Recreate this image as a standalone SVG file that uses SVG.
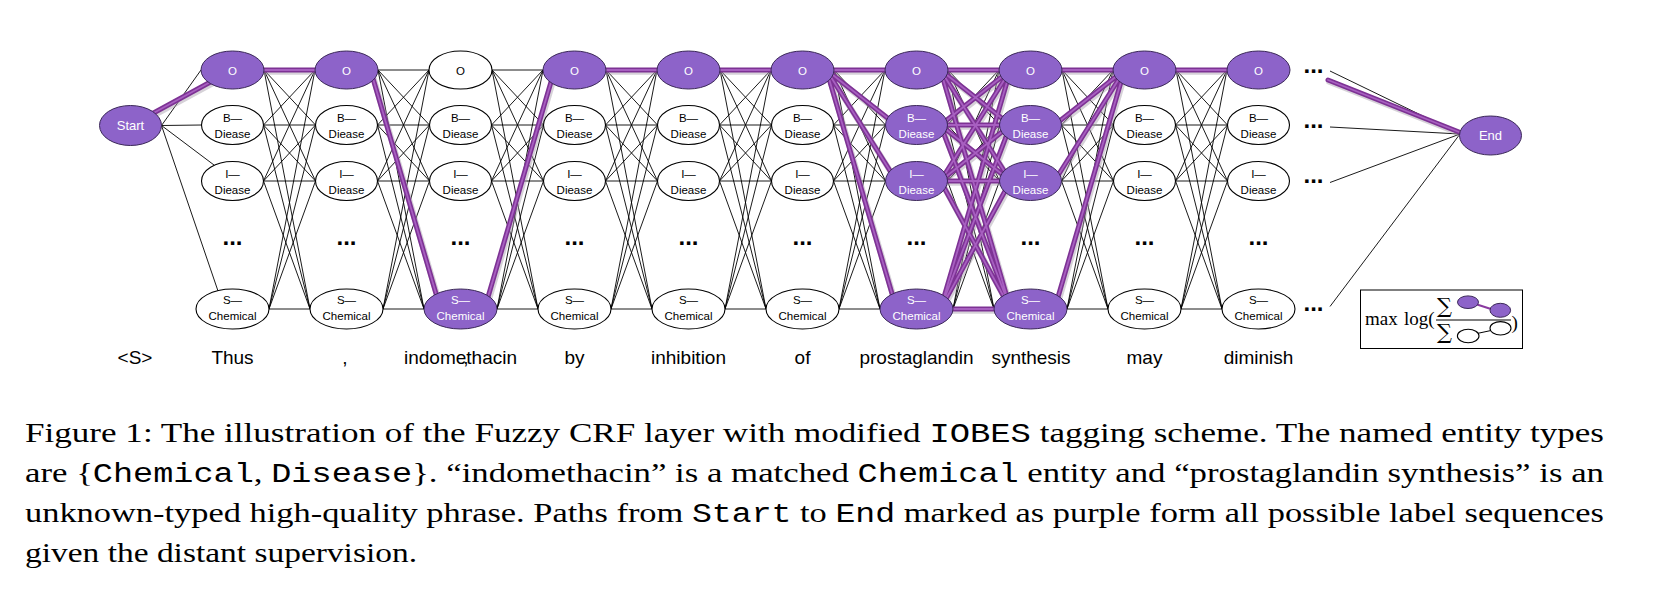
<svg xmlns="http://www.w3.org/2000/svg" xmlns:xlink="http://www.w3.org/1999/xlink" width="1658" height="616" viewBox="0 0 1658 616">
<style>
.e{fill:none;stroke:#000;stroke-width:0.9}
.n{fill:#fff;stroke:#000;stroke-width:1.1}
.pn{fill:#8d63c9;stroke:#3b2858;stroke-width:1}
.t{font-family:"Liberation Sans",Arial,sans-serif;font-size:11.5px;text-anchor:middle;fill:#000}
.tw{fill:#fff}
.st{font-family:"Liberation Sans",Arial,sans-serif;font-size:13px;text-anchor:middle;fill:#fff}
.w{font-family:"Liberation Sans",Arial,sans-serif;font-size:19px;text-anchor:middle;fill:#000}
.d{font-family:"Liberation Sans",Arial,sans-serif;font-size:24px;font-weight:bold;text-anchor:middle;fill:#000}
.cap{font-family:"Liberation Serif","Times New Roman",serif;font-size:28px;fill:#000}
.mono{font-family:"Liberation Mono","Courier New",monospace;font-size:27px}
.psh{fill:none;stroke:#a59ca8;stroke-width:6;stroke-opacity:0.45;stroke-linecap:round}
.po{fill:none;stroke:#7d3294;stroke-width:5;stroke-linecap:round}
.pi{fill:none;stroke:#a75fc0;stroke-width:1.8;stroke-linecap:round}
.mx{font-family:"Liberation Serif","Times New Roman",serif;font-size:19px;fill:#000}
.sg{font-family:"DejaVu Serif","Liberation Serif",serif;font-size:21px;fill:#000}
</style>
<defs>
<path id="mesh" d="M31.5 70L82.5 70M31.5 70L83 125M31.5 70L83 181M31.5 70L77.5 309M31 125L82.5 70M31 125L83 125M31 125L83 181M31 125L77.5 309M31 181L82.5 70M31 181L83 125M31 181L83 181M31 181L77.5 309M36.5 309L82.5 70M36.5 309L83 125M36.5 309L83 181M36.5 309L77.5 309"/>
<path id="pp" d="M130.5 125.5L232.5 70M256.5 70L326.5 70M370.5 70L440.5 309M484.5 309L554.5 70M598.5 70L668.5 70M712.5 70L782.5 70M826.5 70L896.5 70M826.5 70L896.5 125M826.5 70L896.5 181M826.5 70L896.5 309M940.5 70L1010.5 70M940.5 70L1010.5 125M940.5 70L1010.5 181M940.5 70L1010.5 309M940.5 125L1010.5 70M940.5 125L1010.5 125M940.5 125L1010.5 181M940.5 125L1010.5 309M940.5 181L1010.5 70M940.5 181L1010.5 125M940.5 181L1010.5 181M940.5 181L1010.5 309M940.5 309L1010.5 70M940.5 309L1010.5 125M940.5 309L1010.5 181M940.5 309L1010.5 309M1054.5 70L1124.5 70M1054.5 125L1124.5 70M1054.5 181L1124.5 70M1054.5 309L1124.5 70M1168.5 70L1238.5 70M1328 80L1459 132"/>
</defs>
<rect width="1658" height="616" fill="#fff"/>
<g id="connectors">
<g class="e">
<path d="M161.5 125.5L201 70M161.5 125.5L201.5 125M161.5 125.5L214 165M161.5 125.5L218 291"/>
<use xlink:href="#mesh" x="232.5"/>
<use xlink:href="#mesh" x="346.5"/>
<use xlink:href="#mesh" x="460.5"/>
<use xlink:href="#mesh" x="574.5"/>
<use xlink:href="#mesh" x="688.5"/>
<use xlink:href="#mesh" x="802.5"/>
<use xlink:href="#mesh" x="916.5"/>
<use xlink:href="#mesh" x="1030.5"/>
<use xlink:href="#mesh" x="1144.5"/>
<path d="M1330 71L1460 134M1330 127L1460 134M1330 182.5L1460 134M1330 306.5L1460 134"/>
</g>
<use xlink:href="#pp" class="psh" transform="translate(1.2 1.8)"/>
<use xlink:href="#pp" class="po"/>
<use xlink:href="#pp" class="pi"/>
</g>
<g id="start"><ellipse class="pn" cx="130.5" cy="125.5" rx="31" ry="20"/><text class="st" x="130.5" y="130">Start</text></g>
<g id="end"><ellipse class="pn" cx="1490.5" cy="135.5" rx="31" ry="19.5"/><text class="st" x="1490.5" y="140">End</text></g>

<g id="c1-O"><ellipse class="pn" cx="232.5" cy="70" rx="31.5" ry="19"/><text class="t tw" x="232.5" y="74.5">O</text></g>
<g id="c1-B"><ellipse class="n" cx="232.5" cy="125" rx="31" ry="19.5"/><text class="t" x="232.5" y="121.5">B—</text><text class="t" x="232.5" y="137.5">Diease</text></g>
<g id="c1-I"><ellipse class="n" cx="232.5" cy="181" rx="31" ry="19.5"/><text class="t" x="232.5" y="177.5">I—</text><text class="t" x="232.5" y="193.5">Diease</text></g>
<g id="c1-S"><ellipse class="n" cx="232.5" cy="309" rx="36.5" ry="20"/><text class="t" x="232.5" y="304">S—</text><text class="t" x="232.5" y="320">Chemical</text></g>

<g id="c2-O"><ellipse class="pn" cx="346.5" cy="70" rx="31.5" ry="19"/><text class="t tw" x="346.5" y="74.5">O</text></g>
<g id="c2-B"><ellipse class="n" cx="346.5" cy="125" rx="31" ry="19.5"/><text class="t" x="346.5" y="121.5">B—</text><text class="t" x="346.5" y="137.5">Diease</text></g>
<g id="c2-I"><ellipse class="n" cx="346.5" cy="181" rx="31" ry="19.5"/><text class="t" x="346.5" y="177.5">I—</text><text class="t" x="346.5" y="193.5">Diease</text></g>
<g id="c2-S"><ellipse class="n" cx="346.5" cy="309" rx="36.5" ry="20"/><text class="t" x="346.5" y="304">S—</text><text class="t" x="346.5" y="320">Chemical</text></g>

<g id="c3-O"><ellipse class="n" cx="460.5" cy="70" rx="31.5" ry="19"/><text class="t" x="460.5" y="74.5">O</text></g>
<g id="c3-B"><ellipse class="n" cx="460.5" cy="125" rx="31" ry="19.5"/><text class="t" x="460.5" y="121.5">B—</text><text class="t" x="460.5" y="137.5">Diease</text></g>
<g id="c3-I"><ellipse class="n" cx="460.5" cy="181" rx="31" ry="19.5"/><text class="t" x="460.5" y="177.5">I—</text><text class="t" x="460.5" y="193.5">Diease</text></g>
<g id="c3-S"><ellipse class="pn" cx="460.5" cy="309" rx="36.5" ry="20"/><text class="t tw" x="460.5" y="304">S—</text><text class="t tw" x="460.5" y="320">Chemical</text></g>

<g id="c4-O"><ellipse class="pn" cx="574.5" cy="70" rx="31.5" ry="19"/><text class="t tw" x="574.5" y="74.5">O</text></g>
<g id="c4-B"><ellipse class="n" cx="574.5" cy="125" rx="31" ry="19.5"/><text class="t" x="574.5" y="121.5">B—</text><text class="t" x="574.5" y="137.5">Diease</text></g>
<g id="c4-I"><ellipse class="n" cx="574.5" cy="181" rx="31" ry="19.5"/><text class="t" x="574.5" y="177.5">I—</text><text class="t" x="574.5" y="193.5">Diease</text></g>
<g id="c4-S"><ellipse class="n" cx="574.5" cy="309" rx="36.5" ry="20"/><text class="t" x="574.5" y="304">S—</text><text class="t" x="574.5" y="320">Chemical</text></g>

<g id="c5-O"><ellipse class="pn" cx="688.5" cy="70" rx="31.5" ry="19"/><text class="t tw" x="688.5" y="74.5">O</text></g>
<g id="c5-B"><ellipse class="n" cx="688.5" cy="125" rx="31" ry="19.5"/><text class="t" x="688.5" y="121.5">B—</text><text class="t" x="688.5" y="137.5">Diease</text></g>
<g id="c5-I"><ellipse class="n" cx="688.5" cy="181" rx="31" ry="19.5"/><text class="t" x="688.5" y="177.5">I—</text><text class="t" x="688.5" y="193.5">Diease</text></g>
<g id="c5-S"><ellipse class="n" cx="688.5" cy="309" rx="36.5" ry="20"/><text class="t" x="688.5" y="304">S—</text><text class="t" x="688.5" y="320">Chemical</text></g>

<g id="c6-O"><ellipse class="pn" cx="802.5" cy="70" rx="31.5" ry="19"/><text class="t tw" x="802.5" y="74.5">O</text></g>
<g id="c6-B"><ellipse class="n" cx="802.5" cy="125" rx="31" ry="19.5"/><text class="t" x="802.5" y="121.5">B—</text><text class="t" x="802.5" y="137.5">Diease</text></g>
<g id="c6-I"><ellipse class="n" cx="802.5" cy="181" rx="31" ry="19.5"/><text class="t" x="802.5" y="177.5">I—</text><text class="t" x="802.5" y="193.5">Diease</text></g>
<g id="c6-S"><ellipse class="n" cx="802.5" cy="309" rx="36.5" ry="20"/><text class="t" x="802.5" y="304">S—</text><text class="t" x="802.5" y="320">Chemical</text></g>

<g id="c7-O"><ellipse class="pn" cx="916.5" cy="70" rx="31.5" ry="19"/><text class="t tw" x="916.5" y="74.5">O</text></g>
<g id="c7-B"><ellipse class="pn" cx="916.5" cy="125" rx="31" ry="19.5"/><text class="t tw" x="916.5" y="121.5">B—</text><text class="t tw" x="916.5" y="137.5">Diease</text></g>
<g id="c7-I"><ellipse class="pn" cx="916.5" cy="181" rx="31" ry="19.5"/><text class="t tw" x="916.5" y="177.5">I—</text><text class="t tw" x="916.5" y="193.5">Diease</text></g>
<g id="c7-S"><ellipse class="pn" cx="916.5" cy="309" rx="36.5" ry="20"/><text class="t tw" x="916.5" y="304">S—</text><text class="t tw" x="916.5" y="320">Chemical</text></g>

<g id="c8-O"><ellipse class="pn" cx="1030.5" cy="70" rx="31.5" ry="19"/><text class="t tw" x="1030.5" y="74.5">O</text></g>
<g id="c8-B"><ellipse class="pn" cx="1030.5" cy="125" rx="31" ry="19.5"/><text class="t tw" x="1030.5" y="121.5">B—</text><text class="t tw" x="1030.5" y="137.5">Diease</text></g>
<g id="c8-I"><ellipse class="pn" cx="1030.5" cy="181" rx="31" ry="19.5"/><text class="t tw" x="1030.5" y="177.5">I—</text><text class="t tw" x="1030.5" y="193.5">Diease</text></g>
<g id="c8-S"><ellipse class="pn" cx="1030.5" cy="309" rx="36.5" ry="20"/><text class="t tw" x="1030.5" y="304">S—</text><text class="t tw" x="1030.5" y="320">Chemical</text></g>

<g id="c9-O"><ellipse class="pn" cx="1144.5" cy="70" rx="31.5" ry="19"/><text class="t tw" x="1144.5" y="74.5">O</text></g>
<g id="c9-B"><ellipse class="n" cx="1144.5" cy="125" rx="31" ry="19.5"/><text class="t" x="1144.5" y="121.5">B—</text><text class="t" x="1144.5" y="137.5">Diease</text></g>
<g id="c9-I"><ellipse class="n" cx="1144.5" cy="181" rx="31" ry="19.5"/><text class="t" x="1144.5" y="177.5">I—</text><text class="t" x="1144.5" y="193.5">Diease</text></g>
<g id="c9-S"><ellipse class="n" cx="1144.5" cy="309" rx="36.5" ry="20"/><text class="t" x="1144.5" y="304">S—</text><text class="t" x="1144.5" y="320">Chemical</text></g>

<g id="c10-O"><ellipse class="pn" cx="1258.5" cy="70" rx="31.5" ry="19"/><text class="t tw" x="1258.5" y="74.5">O</text></g>
<g id="c10-B"><ellipse class="n" cx="1258.5" cy="125" rx="31" ry="19.5"/><text class="t" x="1258.5" y="121.5">B—</text><text class="t" x="1258.5" y="137.5">Diease</text></g>
<g id="c10-I"><ellipse class="n" cx="1258.5" cy="181" rx="31" ry="19.5"/><text class="t" x="1258.5" y="177.5">I—</text><text class="t" x="1258.5" y="193.5">Diease</text></g>
<g id="c10-S"><ellipse class="n" cx="1258.5" cy="309" rx="36.5" ry="20"/><text class="t" x="1258.5" y="304">S—</text><text class="t" x="1258.5" y="320">Chemical</text></g>

<g id="dots">
<text class="d" x="232.5" y="245">...</text>
<text class="d" x="346.5" y="245">...</text>
<text class="d" x="460.5" y="245">...</text>
<text class="d" x="574.5" y="245">...</text>
<text class="d" x="688.5" y="245">...</text>
<text class="d" x="802.5" y="245">...</text>
<text class="d" x="916.5" y="245">...</text>
<text class="d" x="1030.5" y="245">...</text>
<text class="d" x="1144.5" y="245">...</text>
<text class="d" x="1258.5" y="245">...</text>
<text class="d" x="1313.5" y="72.5">...</text>
<text class="d" x="1313.5" y="128">...</text>
<text class="d" x="1313.5" y="183">...</text>
<text class="d" x="1313.5" y="311">...</text>
</g>

<g id="words">
<text class="w" x="135" y="364">&lt;S&gt;</text>
<text class="w" x="232.5" y="364">Thus</text>
<text class="w" x="345" y="364">,</text>
<text class="w" x="460.5" y="364">indomethacin</text>
<text class="w" x="466" y="364">,</text>
<text class="w" x="574.5" y="364">by</text>
<text class="w" x="688.5" y="364">inhibition</text>
<text class="w" x="802.5" y="364">of</text>
<text class="w" x="916.5" y="364">prostaglandin</text>
<text class="w" x="1031" y="364">synthesis</text>
<text class="w" x="1144.5" y="364">may</text>
<text class="w" x="1258.5" y="364">diminish</text>
</g>

<g id="objective">
<rect x="1360.5" y="290" width="162" height="58.5" fill="#fff" stroke="#000" stroke-width="1"/>
<text class="mx" x="1365" y="325">max</text>
<text class="mx" x="1404" y="325">log(</text>
<text class="sg" x="1437" y="313">∑</text>
<line x1="1436" y1="320" x2="1511" y2="320" stroke="#000" stroke-width="1"/>
<text class="sg" x="1437" y="339">∑</text>
<line x1="1477" y1="304.5" x2="1491" y2="309" stroke="#8a3aa0" stroke-width="2"/>
<ellipse class="pn" cx="1468" cy="302.2" rx="10.5" ry="6.3"/>
<ellipse class="pn" cx="1500.3" cy="310.3" rx="10.3" ry="7"/>
<line x1="1477" y1="333.5" x2="1491" y2="330.5" stroke="#000" stroke-width="1"/>
<ellipse class="n" cx="1468.2" cy="336" rx="10.8" ry="6.7"/>
<ellipse class="n" cx="1500.5" cy="328.3" rx="10.5" ry="6.7"/>
<text class="mx" x="1511.5" y="329" font-size="26">)</text>
</g>

<g id="caption">
<text class="cap" x="25" y="442" textLength="1579" lengthAdjust="spacingAndGlyphs">Figure 1: The illustration of the Fuzzy CRF layer with modified <tspan class="mono">IOBES</tspan> tagging scheme.  The named entity types</text>
<text class="cap" x="25" y="482" textLength="1579" lengthAdjust="spacingAndGlyphs">are {<tspan class="mono">Chemical</tspan>, <tspan class="mono">Disease</tspan>}. “indomethacin” is a matched <tspan class="mono">Chemical</tspan> entity and “prostaglandin synthesis” is an</text>
<text class="cap" x="25" y="522" textLength="1579" lengthAdjust="spacingAndGlyphs">unknown-typed high-quality phrase. Paths from <tspan class="mono">Start</tspan> to <tspan class="mono">End</tspan> marked as purple form all possible label sequences</text>
<text class="cap" x="25" y="562" textLength="392" lengthAdjust="spacingAndGlyphs">given the distant supervision.</text>
</g>
</svg>
